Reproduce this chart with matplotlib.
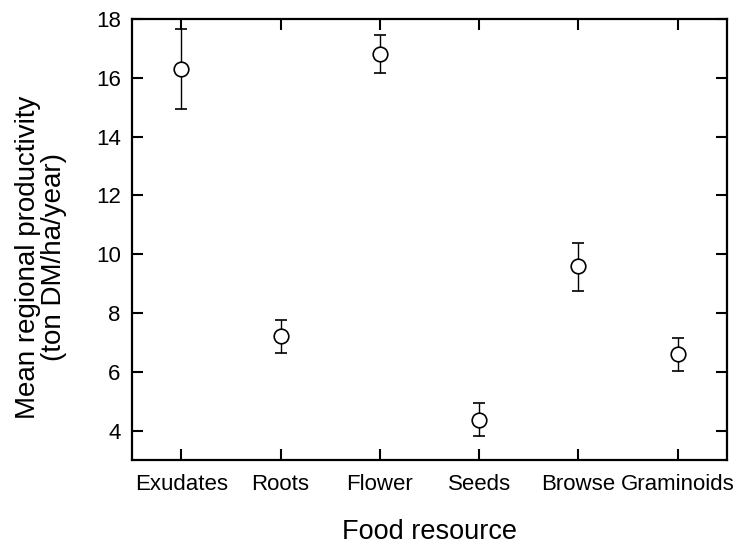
import matplotlib
matplotlib.use('Agg')
import matplotlib.pyplot as plt
import numpy as np

plt.rcParams['font.family'] = ['Liberation Sans', 'DejaVu Sans']

categories = ['Exudates', 'Roots', 'Flower', 'Seeds', 'Browse', 'Graminoids']
means = [16.3, 7.21, 16.8, 4.37, 9.6, 6.61]
upper = [17.66, 7.75, 17.45, 4.93, 10.39, 7.16]
lower = [14.93, 6.63, 16.17, 3.81, 8.76, 6.03]
yticks = [4, 6, 8, 10, 12, 14, 16, 18]

x = np.arange(1, len(categories) + 1)
means = np.array(means)
yerr = [means - np.array(lower), np.array(upper) - means]

fig = plt.figure(figsize=(7.36, 5.46), dpi=100)
ax = fig.add_axes([0.179, 0.1575, 0.809, 0.8075])

ax.errorbar(x, means, yerr=yerr, fmt='o', color='black', ecolor='black',
            markerfacecolor='white', markeredgecolor='black', markersize=10.5,
            markeredgewidth=1.2, elinewidth=1.0, capsize=4.5, capthick=1.2)

ax.set_xlim(0.5, 6.5)
ax.set_ylim(3, 18)
ax.set_xticks(x)
ax.set_xticklabels(categories, fontsize=16)
ax.set_yticks(yticks)
ax.tick_params(axis='y', labelsize=16, pad=8)
ax.tick_params(axis='x', pad=10)
ax.tick_params(direction='in', length=8, width=1.5, top=True, right=True)
for s in ax.spines.values():
    s.set_linewidth(1.6)

ax.set_xlabel('Food resource', fontsize=19.5, labelpad=17)
ax.set_ylabel('Mean regional productivity\n(ton DM/ha/year)', fontsize=20,
              linespacing=1.0)
ax.yaxis.set_label_coords(-0.108, 0.46)

fig.savefig('out.png', dpi=100)
